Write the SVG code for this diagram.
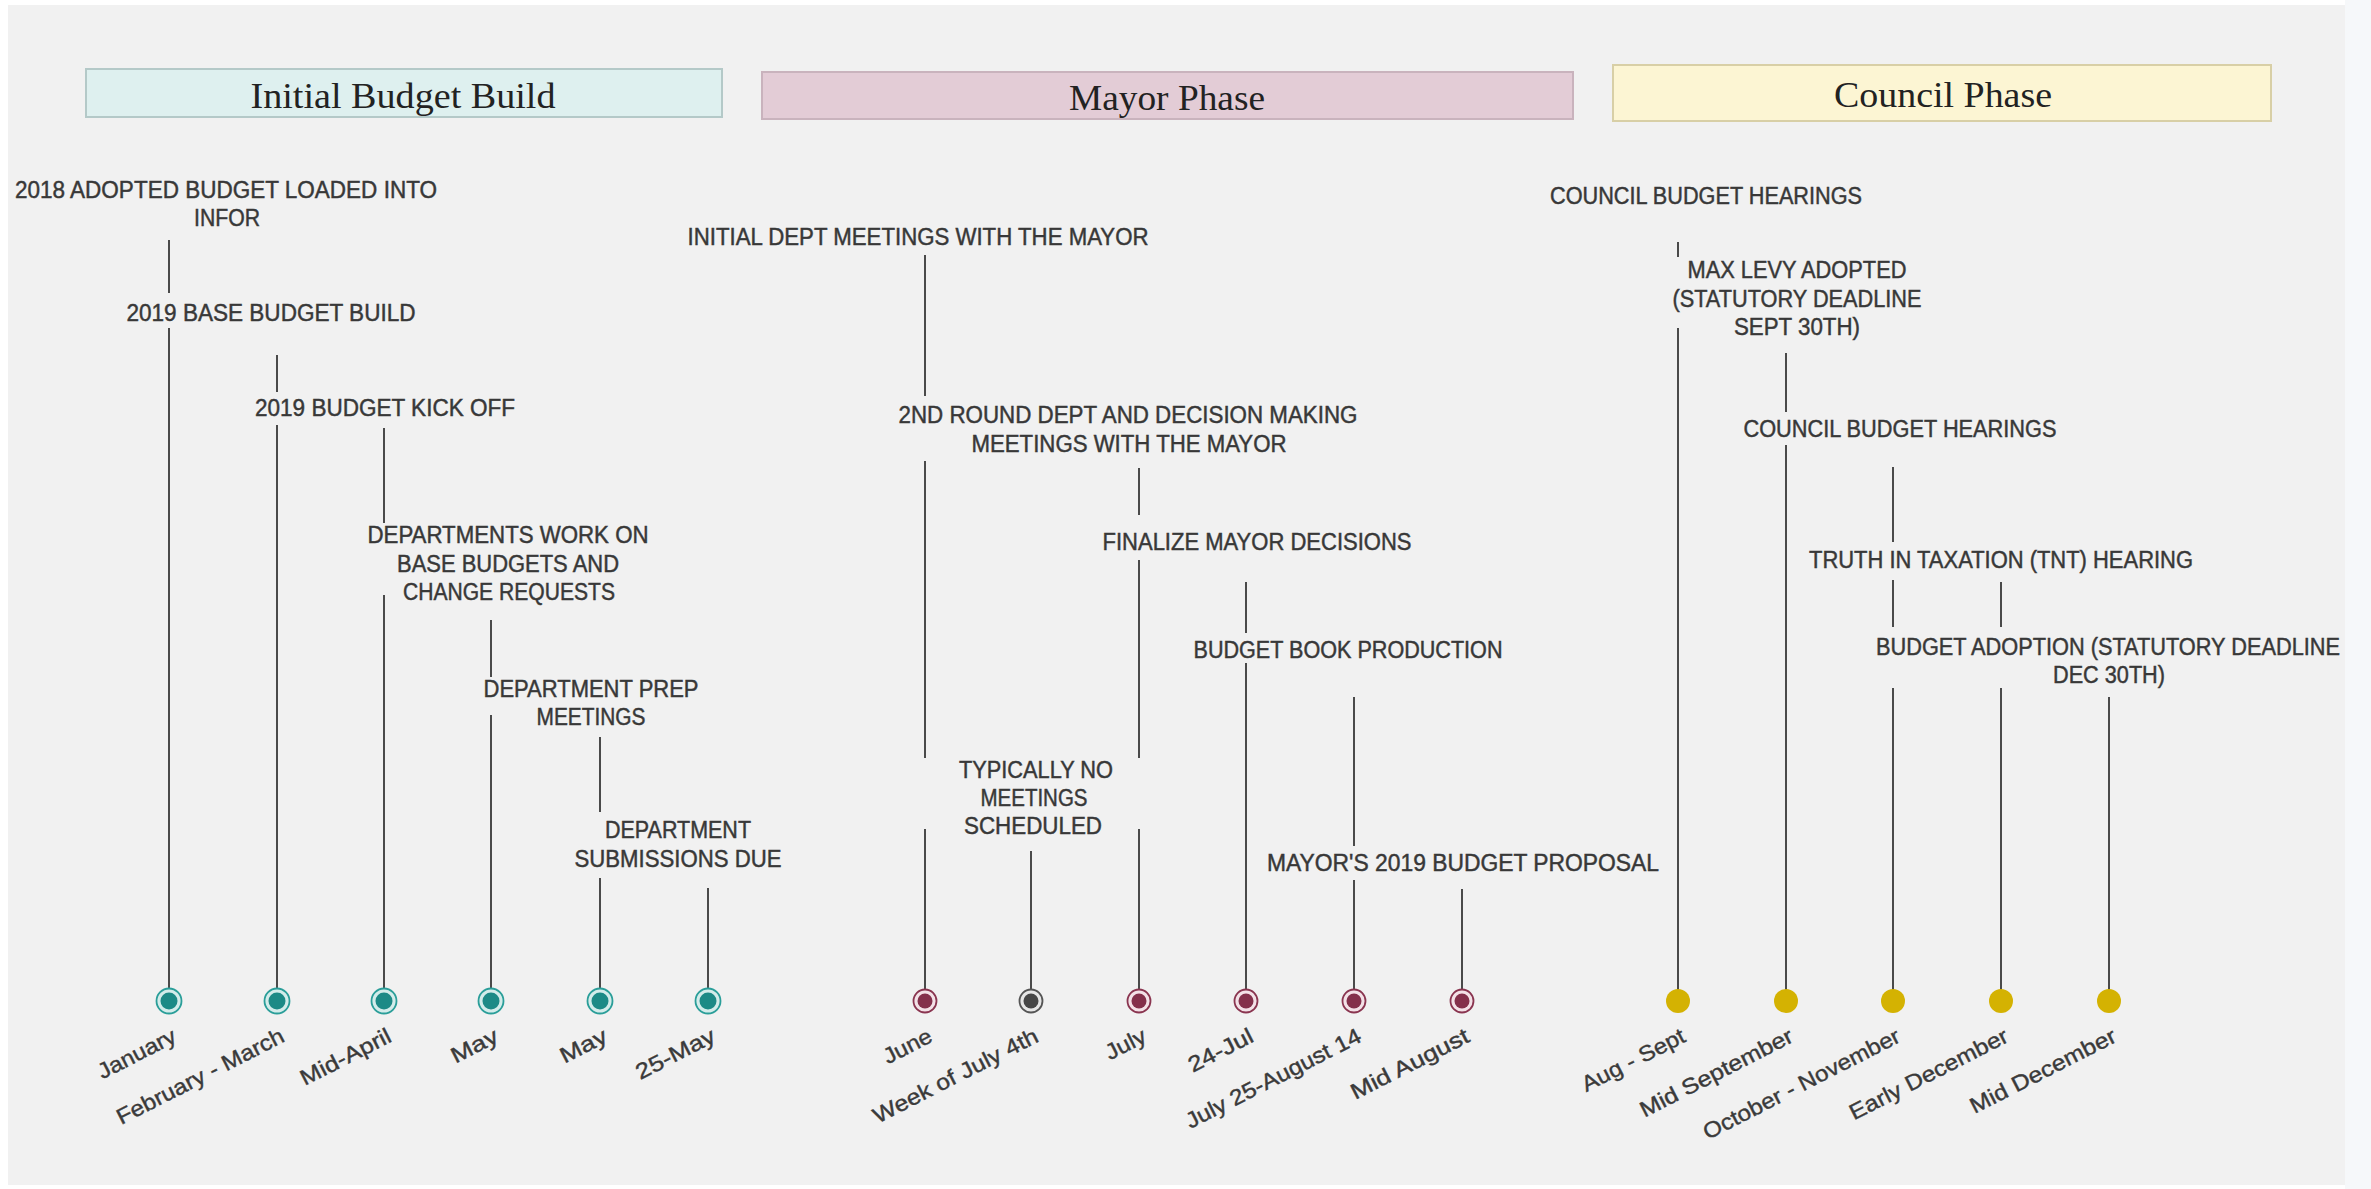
<svg xmlns="http://www.w3.org/2000/svg" width="2371" height="1189" viewBox="0 0 2371 1189">
<style>
.hdr{font-family:"Liberation Serif","DejaVu Serif",serif;font-size:35px;fill:#222;text-anchor:middle}
.lbl{font-family:"Liberation Sans Narrow","Liberation Sans",Arial,sans-serif;font-size:23px;fill:#383838;stroke:#383838;stroke-width:0.45;text-anchor:middle}
.dt{font-family:"Liberation Sans Narrow","Liberation Sans",Arial,sans-serif;font-size:22px;fill:#3a3a3a;stroke:#3a3a3a;stroke-width:0.4;text-anchor:end}
.ln{stroke:#4a4a4a;stroke-width:2;fill:none}
.ring-t{fill:#d3ecea;stroke:#2a9e99;stroke-width:1.8}
.in-t{fill:#1c8a86}
.ring-m{fill:#f3e1e7;stroke:#8a3550;stroke-width:1.8}
.in-m{fill:#84304b}
.ring-g{fill:#e6e6e6;stroke:#555;stroke-width:1.8}
.in-g{fill:#474747}
.dot-y{fill:#d4b202}
</style>
<rect x="0" y="0" width="2371" height="1189" fill="#ffffff"/>
<rect x="8" y="5" width="2337" height="1180" fill="#f1f1f1"/>
<rect x="2345" y="0" width="26" height="1189" fill="#f6f8fa"/>

<g id="phase-initial">
<rect x="86" y="69" width="636" height="48" fill="#def0ef" stroke="#b4c9c8" stroke-width="2"/>
<text class="hdr" x="403" y="108" textLength="305" lengthAdjust="spacingAndGlyphs">Initial Budget Build</text>
</g>
<g id="phase-mayor">
<rect x="762" y="72" width="811" height="47" fill="#e3ccd6" stroke="#c9b3bd" stroke-width="2"/>
<text class="hdr" x="1167" y="110" textLength="196" lengthAdjust="spacingAndGlyphs">Mayor Phase</text>
</g>
<g id="phase-council">
<rect x="1613" y="65" width="658" height="56" fill="#fcf5d3" stroke="#d8cfa6" stroke-width="2"/>
<text class="hdr" x="1943" y="107" textLength="218" lengthAdjust="spacingAndGlyphs">Council Phase</text>
</g>

<g id="connectors">
<path class="ln" d="M169 240V293M169 328V1001"/>
<path class="ln" d="M277 355V392M277 425V1001"/>
<path class="ln" d="M384 428V523M384 595V1001"/>
<path class="ln" d="M491 620V677M491 715V1001"/>
<path class="ln" d="M600 737V812M600 878V1001"/>
<path class="ln" d="M708 888V1001"/>
<path class="ln" d="M925 255V396M925 461V758M925 829V1001"/>
<path class="ln" d="M1031 851V1001"/>
<path class="ln" d="M1139 468V515M1139 560V758M1139 829V1001"/>
<path class="ln" d="M1246 582V633M1246 663V1001"/>
<path class="ln" d="M1354 697V846M1354 880V1001"/>
<path class="ln" d="M1462 889V1001"/>
<path class="ln" d="M1678 242V257M1678 328V1001"/>
<path class="ln" d="M1786 353V412M1786 445V1001"/>
<path class="ln" d="M1893 467V542M1893 580V627M1893 688V1001"/>
<path class="ln" d="M2001 582V627M2001 688V1001"/>
<path class="ln" d="M2109 697V1001"/>
</g>

<g id="ev-january">
<text class="lbl" x="226" y="198" textLength="422" lengthAdjust="spacingAndGlyphs">2018 ADOPTED BUDGET LOADED INTO</text>
<text class="lbl" x="227" y="226" textLength="66" lengthAdjust="spacingAndGlyphs">INFOR</text>
<circle class="ring-t" cx="169" cy="1001" r="12.5"/><circle class="in-t" cx="169" cy="1001" r="8.5"/>
<text class="dt" transform="translate(178 1041) rotate(-27)" textLength="85" lengthAdjust="spacingAndGlyphs">January</text>
</g>
<g id="ev-febmar">
<text class="lbl" x="271" y="321" textLength="289" lengthAdjust="spacingAndGlyphs">2019 BASE BUDGET BUILD</text>
<circle class="ring-t" cx="277" cy="1001" r="12.5"/><circle class="in-t" cx="277" cy="1001" r="8.5"/>
<text class="dt" transform="translate(286 1041) rotate(-27)" textLength="185" lengthAdjust="spacingAndGlyphs">February - March</text>
</g>
<g id="ev-midapril">
<text class="lbl" x="385" y="416" textLength="260" lengthAdjust="spacingAndGlyphs">2019 BUDGET KICK OFF</text>
<circle class="ring-t" cx="384" cy="1001" r="12.5"/><circle class="in-t" cx="384" cy="1001" r="8.5"/>
<text class="dt" transform="translate(393 1041) rotate(-27)" textLength="99" lengthAdjust="spacingAndGlyphs">Mid-April</text>
</g>
<g id="ev-may1">
<text class="lbl" x="508" y="543" textLength="281" lengthAdjust="spacingAndGlyphs">DEPARTMENTS WORK ON</text>
<text class="lbl" x="508" y="572" textLength="222" lengthAdjust="spacingAndGlyphs">BASE BUDGETS AND</text>
<text class="lbl" x="509" y="600" textLength="212" lengthAdjust="spacingAndGlyphs">CHANGE REQUESTS</text>
<circle class="ring-t" cx="491" cy="1001" r="12.5"/><circle class="in-t" cx="491" cy="1001" r="8.5"/>
<text class="dt" transform="translate(500 1041) rotate(-27)" textLength="50" lengthAdjust="spacingAndGlyphs">May</text>
</g>
<g id="ev-may2">
<text class="lbl" x="591" y="697" textLength="215" lengthAdjust="spacingAndGlyphs">DEPARTMENT PREP</text>
<text class="lbl" x="591" y="725" textLength="109" lengthAdjust="spacingAndGlyphs">MEETINGS</text>
<circle class="ring-t" cx="600" cy="1001" r="12.5"/><circle class="in-t" cx="600" cy="1001" r="8.5"/>
<text class="dt" transform="translate(609 1041) rotate(-27)" textLength="50" lengthAdjust="spacingAndGlyphs">May</text>
</g>
<g id="ev-25may">
<text class="lbl" x="678" y="838" textLength="146" lengthAdjust="spacingAndGlyphs">DEPARTMENT</text>
<text class="lbl" x="678" y="867" textLength="207" lengthAdjust="spacingAndGlyphs">SUBMISSIONS DUE</text>
<circle class="ring-t" cx="708" cy="1001" r="12.5"/><circle class="in-t" cx="708" cy="1001" r="8.5"/>
<text class="dt" transform="translate(717 1041) rotate(-27)" textLength="86" lengthAdjust="spacingAndGlyphs">25-May</text>
</g>

<g id="ev-june">
<text class="lbl" x="918" y="245" textLength="461" lengthAdjust="spacingAndGlyphs">INITIAL DEPT MEETINGS WITH THE MAYOR</text>
<circle class="ring-m" cx="925" cy="1001" r="11.5"/><circle class="in-m" cx="925" cy="1001" r="7.5"/>
<text class="dt" transform="translate(934 1041) rotate(-27)" textLength="52" lengthAdjust="spacingAndGlyphs">June</text>
</g>
<g id="ev-july4">
<text class="lbl" x="1036" y="778" textLength="154" lengthAdjust="spacingAndGlyphs">TYPICALLY NO</text>
<text class="lbl" x="1034" y="806" textLength="107" lengthAdjust="spacingAndGlyphs">MEETINGS</text>
<text class="lbl" x="1033" y="834" textLength="138" lengthAdjust="spacingAndGlyphs">SCHEDULED</text>
<circle class="ring-g" cx="1031" cy="1001" r="11.5"/><circle class="in-g" cx="1031" cy="1001" r="7.5"/>
<text class="dt" transform="translate(1040 1041) rotate(-27)" textLength="182" lengthAdjust="spacingAndGlyphs">Week of July 4th</text>
</g>
<g id="ev-july">
<text class="lbl" x="1128" y="423" textLength="459" lengthAdjust="spacingAndGlyphs">2ND ROUND DEPT AND DECISION MAKING</text>
<text class="lbl" x="1129" y="452" textLength="315" lengthAdjust="spacingAndGlyphs">MEETINGS WITH THE MAYOR</text>
<circle class="ring-m" cx="1139" cy="1001" r="11.5"/><circle class="in-m" cx="1139" cy="1001" r="7.5"/>
<text class="dt" transform="translate(1148 1041) rotate(-27)" textLength="43" lengthAdjust="spacingAndGlyphs">July</text>
</g>
<g id="ev-24jul">
<text class="lbl" x="1257" y="550" textLength="309" lengthAdjust="spacingAndGlyphs">FINALIZE MAYOR DECISIONS</text>
<circle class="ring-m" cx="1246" cy="1001" r="11.5"/><circle class="in-m" cx="1246" cy="1001" r="7.5"/>
<text class="dt" transform="translate(1255 1041) rotate(-27)" textLength="70" lengthAdjust="spacingAndGlyphs">24-Jul</text>
</g>
<g id="ev-jul25aug14">
<text class="lbl" x="1348" y="658" textLength="309" lengthAdjust="spacingAndGlyphs">BUDGET BOOK PRODUCTION</text>
<circle class="ring-m" cx="1354" cy="1001" r="11.5"/><circle class="in-m" cx="1354" cy="1001" r="7.5"/>
<text class="dt" transform="translate(1363 1041) rotate(-27)" textLength="194" lengthAdjust="spacingAndGlyphs">July 25-August 14</text>
</g>
<g id="ev-midaug">
<text class="lbl" x="1463" y="871" textLength="392" lengthAdjust="spacingAndGlyphs">MAYOR'S 2019 BUDGET PROPOSAL</text>
<circle class="ring-m" cx="1462" cy="1001" r="11.5"/><circle class="in-m" cx="1462" cy="1001" r="7.5"/>
<text class="dt" transform="translate(1471 1041) rotate(-27)" textLength="130" lengthAdjust="spacingAndGlyphs">Mid August</text>
</g>

<g id="ev-augsept">
<text class="lbl" x="1706" y="204" textLength="312" lengthAdjust="spacingAndGlyphs">COUNCIL BUDGET HEARINGS</text>
<circle class="dot-y" cx="1678" cy="1001" r="12"/>
<text class="dt" transform="translate(1687 1041) rotate(-27)" textLength="113" lengthAdjust="spacingAndGlyphs">Aug - Sept</text>
</g>
<g id="ev-midsept">
<text class="lbl" x="1797" y="278" textLength="219" lengthAdjust="spacingAndGlyphs">MAX LEVY ADOPTED</text>
<text class="lbl" x="1797" y="307" textLength="249" lengthAdjust="spacingAndGlyphs">(STATUTORY DEADLINE</text>
<text class="lbl" x="1797" y="335" textLength="126" lengthAdjust="spacingAndGlyphs">SEPT 30TH)</text>
<circle class="dot-y" cx="1786" cy="1001" r="12"/>
<text class="dt" transform="translate(1795 1041) rotate(-27)" textLength="169" lengthAdjust="spacingAndGlyphs">Mid September</text>
</g>
<g id="ev-octnov">
<text class="lbl" x="1900" y="437" textLength="313" lengthAdjust="spacingAndGlyphs">COUNCIL BUDGET HEARINGS</text>
<circle class="dot-y" cx="1893" cy="1001" r="12"/>
<text class="dt" transform="translate(1902 1041) rotate(-27)" textLength="218" lengthAdjust="spacingAndGlyphs">October - November</text>
</g>
<g id="ev-earlydec">
<text class="lbl" x="2001" y="568" textLength="384" lengthAdjust="spacingAndGlyphs">TRUTH IN TAXATION (TNT) HEARING</text>
<circle class="dot-y" cx="2001" cy="1001" r="12"/>
<text class="dt" transform="translate(2010 1041) rotate(-27)" textLength="175" lengthAdjust="spacingAndGlyphs">Early December</text>
</g>
<g id="ev-middec">
<text class="lbl" x="2108" y="655" textLength="464" lengthAdjust="spacingAndGlyphs">BUDGET ADOPTION (STATUTORY DEADLINE</text>
<text class="lbl" x="2109" y="683" textLength="112" lengthAdjust="spacingAndGlyphs">DEC 30TH)</text>
<circle class="dot-y" cx="2109" cy="1001" r="12"/>
<text class="dt" transform="translate(2118 1041) rotate(-27)" textLength="161" lengthAdjust="spacingAndGlyphs">Mid December</text>
</g>
</svg>
